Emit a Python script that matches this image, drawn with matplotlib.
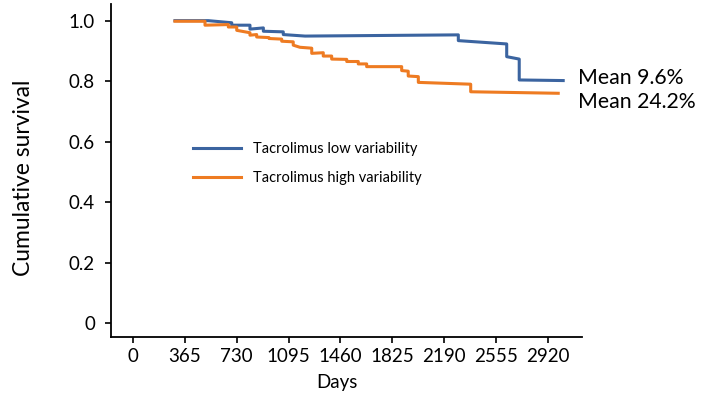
import matplotlib
matplotlib.use('Agg')
import matplotlib.pyplot as plt

plt.rcParams['font.family'] = ['Lato', 'DejaVu Sans']

# Kaplan-Meier curves (days, cumulative survival)
low_days = [297, 531, 696, 696, 824, 824, 918, 918, 1058, 1058, 1211, 2288, 2288,
            2628, 2628, 2716, 2716, 3025]
low_surv = [1.0, 1.0, 0.993, 0.985, 0.985, 0.972, 0.976, 0.965, 0.963, 0.954, 0.949,
            0.953, 0.934, 0.923, 0.881, 0.873, 0.804, 0.802]

high_days = [297, 508, 508, 672, 672, 731, 731, 824, 824, 871, 871, 958, 958, 1047, 1047,
             1128, 1128, 1175, 1258, 1258, 1339, 1339, 1398, 1398, 1504, 1504, 1585, 1585,
             1644, 1644, 1890, 1890, 1936, 1936, 2007, 2007, 2375, 2375, 2990]
high_surv = [0.998, 0.998, 0.985, 0.987, 0.979, 0.979, 0.968, 0.960, 0.952, 0.954, 0.946,
             0.944, 0.941, 0.939, 0.932, 0.930, 0.919, 0.912, 0.909, 0.892, 0.894, 0.883,
             0.883, 0.873, 0.872, 0.865, 0.865, 0.857, 0.857, 0.848, 0.848, 0.835, 0.833,
             0.817, 0.815, 0.796, 0.790, 0.765, 0.760]

x_ticks = [0, 365, 730, 1095, 1460, 1825, 2190, 2555, 2920]
y_ticks = [0, 0.2, 0.4, 0.6, 0.8, 1.0]
y_tick_labels = ['0', '0.2', '0.4', '0.6', '0.8', '1.0']

mean_low = 'Mean 9.6%'
mean_high = 'Mean 24.2%'

blue = '#3B64A0'
orange = '#EE7B22'

fig = plt.figure(figsize=(7.12, 4), dpi=100)
ax = fig.add_axes([0.156, 0.157, 0.661, 0.833])

ax.plot(low_days, low_surv, color=blue, lw=2.2, label='Tacrolimus low variability')
ax.plot(high_days, high_surv, color=orange, lw=2.2, label='Tacrolimus high variability')

ax.set_xlim(-152, 3155)
ax.set_ylim(-0.046, 1.055)
ax.set_xticks(x_ticks)
ax.set_yticks(y_ticks)
ax.set_yticklabels(y_tick_labels)

for s in ['top', 'right']:
    ax.spines[s].set_visible(False)
for s in ['left', 'bottom']:
    ax.spines[s].set_linewidth(1.3)

ax.tick_params(axis='both', direction='out', length=4.5, width=1.2, labelsize=13.5)
ax.tick_params(axis='y', pad=7)
ax.tick_params(axis='x', pad=3)

ax.set_xlabel('Days', fontsize=13.5)
ax.set_ylabel('Cumulative survival', fontsize=16.5)
ax.yaxis.set_label_coords(-0.164, 0.479)
ax.xaxis.set_label_coords(0.48, -0.11)

ax.text(3129, 0.811, mean_low, fontsize=15.3, va='center', ha='left', clip_on=False)
ax.text(3129, 0.731, mean_high, fontsize=15.3, va='center', ha='left', clip_on=False)

ax.legend(loc='upper left', bbox_to_anchor=(0.271, 0.645), bbox_transform=fig.transFigure,
          frameon=False, fontsize=10.5, handlelength=3.3, handletextpad=0.8,
          labelspacing=1.05, borderpad=0, borderaxespad=0)

fig.savefig('out.png', dpi=100)
